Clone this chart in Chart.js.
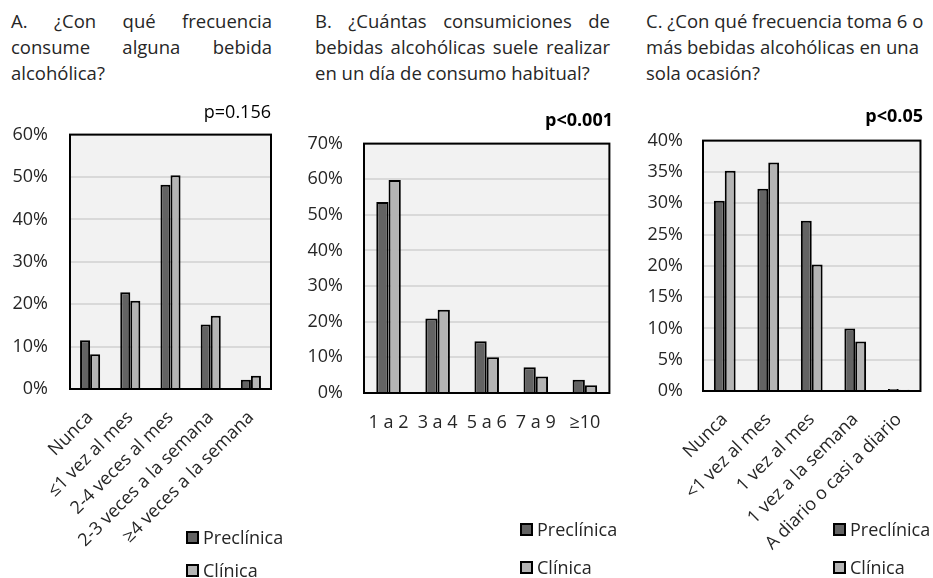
<!DOCTYPE html>
<html lang="es">
<head>
<meta charset="utf-8">
<script src="https://cdn.jsdelivr.net/npm/chart.js@4.4.1/dist/chart.umd.min.js"></script>
<style>
  body { margin: 0; background: #fff; }
  #wrap { position: relative; width: 933px; height: 578px; overflow: hidden; font-family: "Open Sans", sans-serif; color: #262626; }
  canvas { position: absolute; }
  .title { position: absolute; font-family: "Open Sans", sans-serif; font-size: 18.5px; line-height: 26px; color: #262626; }
  .title div { white-space: nowrap; }
  .title .j { text-align: justify; text-align-last: justify; }
  .legend { position: absolute; font-size: 18px; line-height: 22px; }
  .legend .item { display: flex; align-items: center; height: 22px; }
  .legend .box { width: 9px; height: 9px; border: 2px solid #000; margin-right: 4px; }
</style>
</head>
<body>
<div id="wrap">
  <div class="title" style="left:11px; top:8px; width:261px;">
    <div class="j">A. ¿Con qué frecuencia</div>
    <div class="j">consume alguna bebida</div>
    <div>alcohólica?</div>
  </div>
  <div class="title" style="left:315px; top:8px; width:295px;">
    <div class="j">B. ¿Cuántas consumiciones de</div>
    <div class="j">bebidas alcohólicas suele realizar</div>
    <div>en un día de consumo habitual?</div>
  </div>
  <div class="title" style="left:646px; top:8px; width:282px;">
    <div>C. ¿Con qué frecuencia toma 6 o</div>
    <div>más bebidas alcohólicas en una</div>
    <div>sola ocasión?</div>
  </div>

  <canvas id="chartA" width="300" height="488" style="left:0; top:90px;"></canvas>
  <canvas id="chartB" width="320" height="488" style="left:300px; top:90px;"></canvas>
  <canvas id="chartC" width="313" height="488" style="left:620px; top:90px;"></canvas>

  <div class="legend" id="legendA" data-gap="11" style="left:186px; top:526px;"></div>
  <div class="legend" id="legendB" data-gap="16" style="left:520px; top:518px;"></div>
  <div class="legend" id="legendC" data-gap="16" style="left:833px; top:518px;"></div>
</div>

<script>
// ------------------- Data -------------------
const seriesNames = ["Preclínica", "Clínica"];

const catsA = ["Nunca", "≤1 vez al mes", "2-4 veces al mes", "2-3 veces a la semana", "≥4 veces a la semana"];
const preA = [11.5, 22.8, 48.2, 15.2, 2.2];
const cliA = [8.2, 20.8, 50.4, 17.3, 3.1];
const pA = "p=0.156";

const catsB = ["1 a 2", "3 a 4", "5 a 6", "7 a 9", "≥10"];
const preB = [53.6, 20.9, 14.5, 7.2, 3.7];
const cliB = [59.8, 23.4, 10.0, 4.6, 2.2];
const pB = "p<0.001";

const catsC = ["Nunca", "<1 vez al mes", "1 vez al mes", "1 vez a la semana", "A diario o casi a diario"];
const preC = [30.4, 32.3, 27.2, 10.0, 0.3];
const cliC = [35.2, 36.5, 20.2, 7.9, 0.2];
const pC = "p<0.05";

const colors = ["#636363", "#b4b4b4"];
const textColor = "#262626";

// ------------------- Helper Functions -------------------

// grey plot background + black frame around the chart area
const framePlugin = {
  id: "frame",
  beforeDraw(chart) {
    const { ctx, chartArea: a } = chart;
    ctx.save();
    ctx.fillStyle = "#f2f2f2";
    ctx.fillRect(a.left, a.top, a.right - a.left, a.bottom - a.top);
    ctx.restore();
  },
  afterDraw(chart) {
    const { ctx, chartArea: a } = chart;
    ctx.save();
    ctx.strokeStyle = "#000";
    ctx.lineWidth = 2;
    ctx.strokeRect(a.left, a.top, a.right - a.left, a.bottom - a.top);
    ctx.restore();
  }
};

function renderPanel(id, cats, pre, cli, pText, opts) {
  new Chart(document.getElementById(id), {
    type: "bar",
    data: {
      labels: cats,
      datasets: [pre, cli].map((vals, i) => ({
        label: seriesNames[i],
        data: vals,
        backgroundColor: colors[i],
        borderColor: "#000",
        borderWidth: 2,
        categoryPercentage: 0.5,
        barPercentage: 1.0,
      })),
    },
    options: {
      responsive: false,
      animation: false,
      layout: { padding: { left: 0, right: opts.padRight, top: 0, bottom: 0 } },
      plugins: {
        legend: { display: false },
        tooltip: { enabled: false },
        title: {
          display: true,
          text: pText,
          align: "end",
          color: "#000",
          font: { family: "Open Sans", size: 18, weight: opts.bold ? "bold" : "normal" },
          padding: opts.titlePad,
        },
      },
      scales: {
        x: {
          grid: { display: false, drawTicks: false },
          border: { display: false },
          ticks: {
            color: textColor,
            font: { family: "Open Sans", size: 18 },
            autoSkip: false,
            minRotation: opts.rotate,
            maxRotation: opts.rotate,
            padding: opts.xPad,
          },
          afterFit: (s) => { s.height = opts.xHeight; },
        },
        y: {
          min: 0,
          max: opts.max,
          grid: { color: "#d9d9d9", lineWidth: 2, drawTicks: false },
          border: { display: false },
          ticks: {
            stepSize: opts.step,
            color: textColor,
            font: { family: "Open Sans", size: 18 },
            padding: opts.yPad,
            callback: (v) => v + "%",
          },
          afterFit: (s) => { s.width = opts.yWidth; },
        },
      },
    },
    plugins: [framePlugin],
  });
}

function renderLegend(id) {
  const el = document.getElementById(id);
  const gap = el.dataset.gap;
  el.innerHTML = seriesNames.map((name, i) => `
    <div class="item" style="margin-bottom:${i === 0 ? gap : 0}px">
      <span class="box" style="background:${colors[i]}"></span><span>${name}</span>
    </div>`).join("");
}

renderPanel("chartA", catsA, preA, cliA, pA, {
  max: 60, step: 10, bold: false, rotate: 45,
  yWidth: 70, yPad: 22, xHeight: 189, xPad: 18, padRight: 29,
  titlePad: { top: 12, bottom: 11 },
});
renderPanel("chartB", catsB, preB, cliB, pB, {
  max: 70, step: 10, bold: true, rotate: 0,
  yWidth: 64, yPad: 21, xHeight: 185, xPad: 19, padRight: 7,
  titlePad: { top: 20, bottom: 12 },
});
renderPanel("chartC", catsC, preC, cliC, pC, {
  max: 40, step: 5, bold: true, rotate: 45,
  yWidth: 83, yPad: 20, xHeight: 187, xPad: 18, padRight: 10,
  titlePad: { top: 16, bottom: 13 },
});

renderLegend("legendA");
renderLegend("legendB");
renderLegend("legendC");
</script>
</body>
</html>
